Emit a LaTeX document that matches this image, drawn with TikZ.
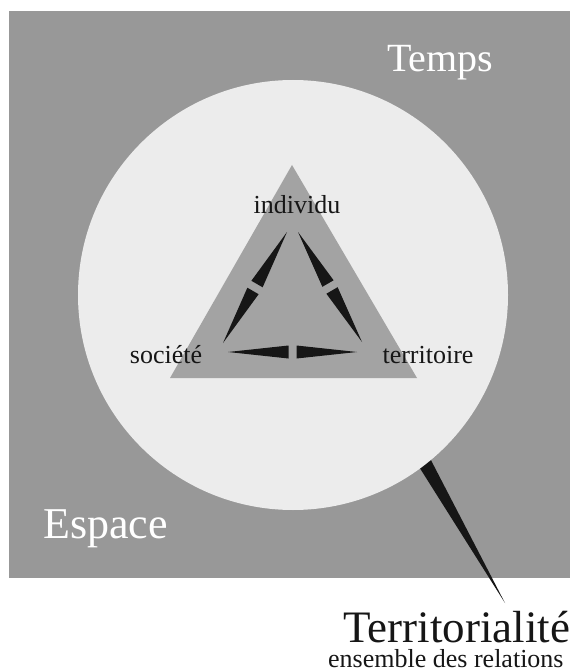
\documentclass[tikz,border=0pt]{standalone}
\usepackage{fontspec}
\setmainfont{Liberation Serif}
\usepackage{tikz}
\usetikzlibrary{calc}
\definecolor{fondgris}  {RGB}{152, 152, 152}
\definecolor{cerclegris}{RGB}{236, 236, 236}
\definecolor{trigris}   {RGB}{163, 163, 163}
\definecolor{encre}     {RGB}{22,  22,  22}
\tikzset{
	pole/.style={font=\fontsize{26}{30}\selectfont, text=encre, inner sep=0pt, anchor=base},
	cadre/.style={text=white, inner sep=0pt, anchor=base west},
	fleche/.style={fill=encre}
}

\begin{document}
\begin{tikzpicture}[x=1pt,y=-1pt]
	\useasboundingbox (0,0) rectangle (570,671);
	\fill[fondgris] (9,11) rectangle (570,578);
	% pointe vers la territorialite
	\coordinate (P0) at (423,460);
	\coordinate (P1) at (505,603);
	\fill[fleche] (P1) -- ($(P0)!7pt!90:(P1)$) -- ($(P0)!7pt!-90:(P1)$) -- cycle;
	\fill[cerclegris] (293,295) circle (215pt);
	\coordinate (I) at (292,165); \coordinate (S) at (170,378); \coordinate (T) at (417,378);
	\fill[trigris] (I)--(S)--(T)--cycle;
	\coordinate (L1) at (287,232); \coordinate (L2) at (223,343);
	\coordinate (R1) at (298,232); \coordinate (R2) at (362,342);
	\coordinate (B1) at (228,352); \coordinate (B2) at (357,352);
	\foreach \a/\b in {L1/L2,R1/R2,B1/B2}{
		\coordinate (m) at ($(\a)!0.5!(\b)$);
		\coordinate (pa) at ($(m)!4pt!(\a)$);
		\coordinate (pb) at ($(m)!4pt!(\b)$);
		\fill[fleche] (\a) -- ($(pa)!6.5pt!90:(\a)$) -- ($(pa)!6.5pt!-90:(\a)$) -- cycle;
		\fill[fleche] (\b) -- ($(pb)!6.5pt!90:(\b)$) -- ($(pb)!6.5pt!-90:(\b)$) -- cycle;
	}
	\node[pole] (individu) at (297,213) {individu};
	\node[pole] (societe) at (166,363) {société};
	\node[pole] (territoire) at (428,363) {territoire};
	\node[cadre, font=\fontsize{40}{44}\selectfont] (temps) at (387,72) {Temps};
	\node[cadre, font=\fontsize{44}{48}\selectfont] (espace) at (43,538) {Espace};
	\node[pole, anchor=base west, text depth=0pt, font=\fontsize{45}{49}\selectfont] (territorialite) at (343,642) {Territorialité};
	\node[pole, anchor=base west, font=\fontsize{26}{28}\selectfont] (relations) at (328,667) {ensemble des relations};
\end{tikzpicture}
\end{document}
